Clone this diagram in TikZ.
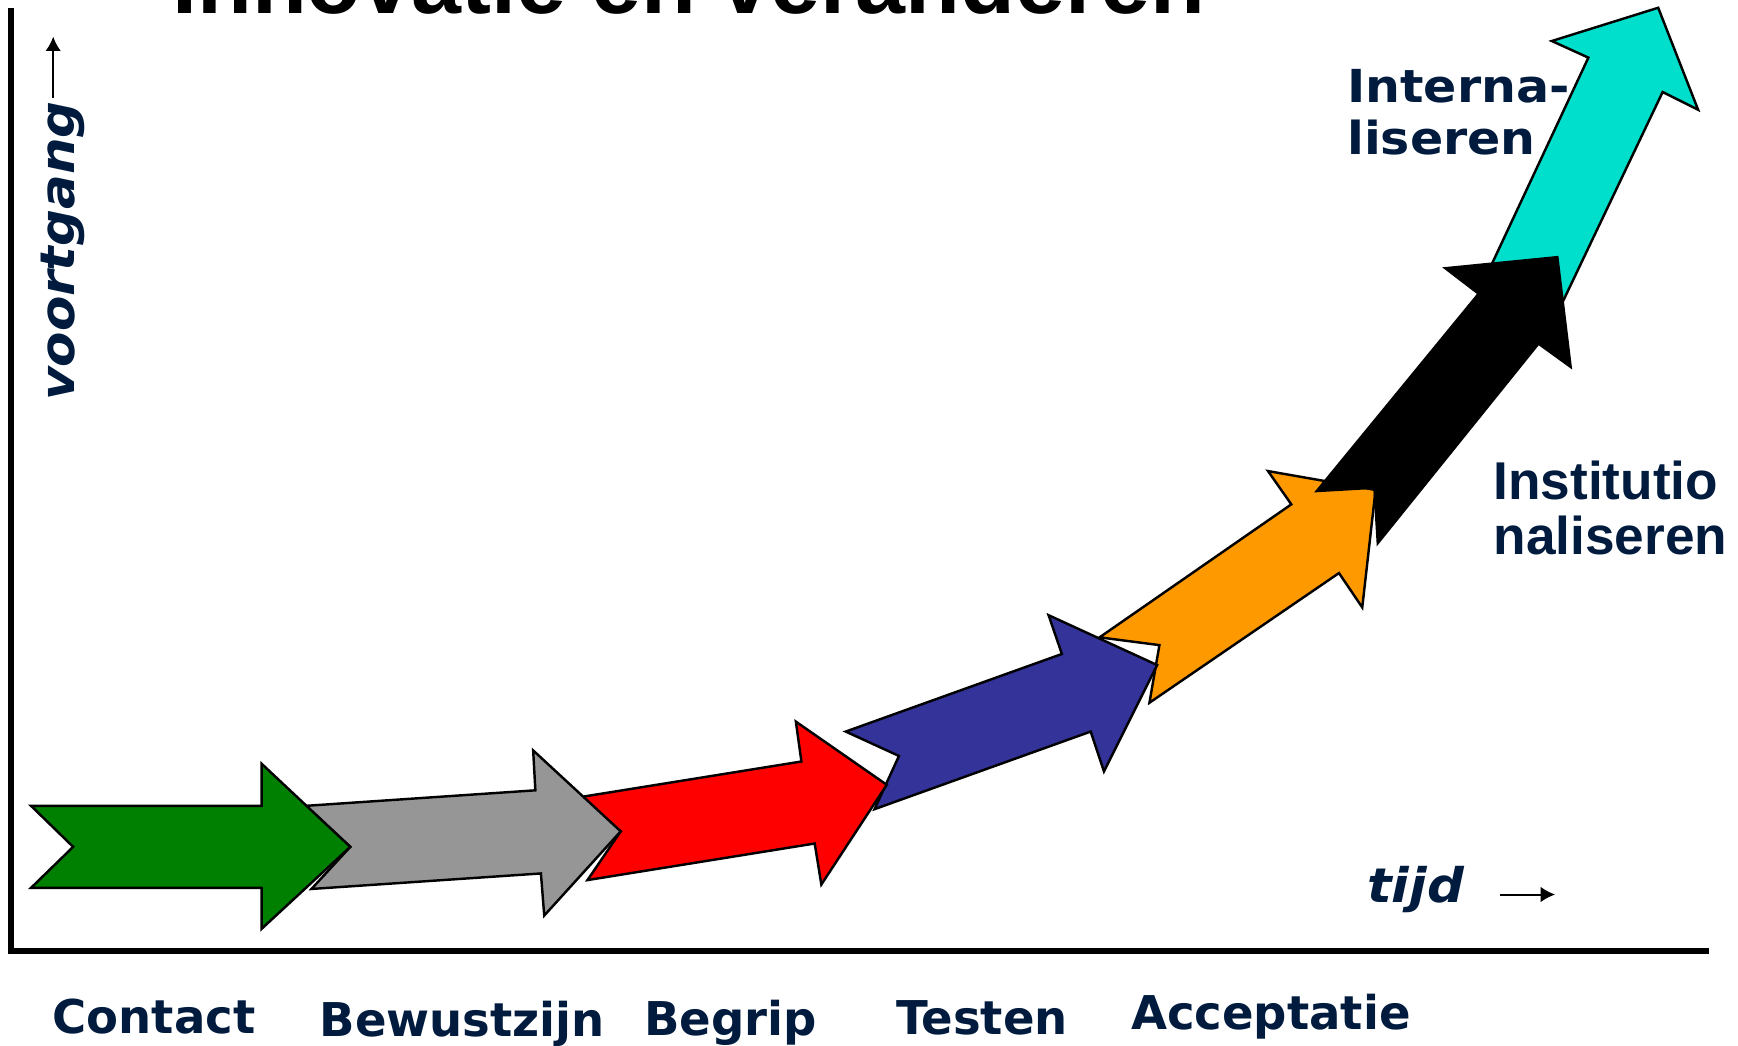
\documentclass[tikz,border=0pt]{standalone}
\usepackage{fontspec}
\setmainfont{DejaVu Sans}
\newfontfamily\breed{DejaVu Sans}[FakeStretch=1.08]
\newfontfamily\arial{Liberation Sans}
\usetikzlibrary{arrows.meta}
\definecolor{tekst}{RGB}{0,27,61}
\definecolor{groen}{RGB}{0,128,0}
\definecolor{grijs}{RGB}{150,150,150}
\definecolor{rood}{RGB}{255,0,0}
\definecolor{blauw}{RGB}{51,51,153}
\definecolor{oranje}{RGB}{255,153,0}
\definecolor{turkoois}{RGB}{0,222,204}
\begin{document}
\begin{tikzpicture}[x=0.5pt,y=-0.5pt,line join=miter]
        % Styles
        \tikzstyle{pijl}=[draw=black,line width=1.1pt]
        \tikzstyle{as}=[line width=3pt]
        \tikzstyle{fase}=[text=tekst,inner sep=0pt,anchor=base west,font=\bfseries\fontsize{21}{25}\selectfont]
        \tikzstyle{schuin}=[text=tekst,inner sep=0pt,anchor=base west,font=\breed\bfseries\itshape\fontsize{21.5}{25}\selectfont]
        \tikzstyle{klein pijltje}=[line width=0.9pt,-{Latex[length=6.5pt,width=7pt]}]
        %The graphic
        \useasboundingbox (0,0) rectangle (1568,943);
        \clip (0,0) rectangle (1568,943);
        %title, cut off at the top
        \node[anchor=base west,inner sep=0pt,font=\arial\bfseries\fontsize{40.5}{48}\selectfont] (titel) at (155,12) {Innovatie en veranderen};
        %axes
        \draw[style=as] (10,7) -- (10,858) -- (1542,858);
        \node[schuin,rotate=90] (voortgang) at (67,362) {voortgang};
        \coordinate (vbegin) at (48,88);
        \coordinate (vtop) at (48,33);
        \draw[klein pijltje] (vbegin) -- (vtop);
        \node[schuin] (tijd) at (1233,814) {tijd};
        \coordinate (tbegin) at (1353,807);
        \coordinate (teind) at (1403,807);
        \draw[klein pijltje] (tbegin) -- (teind);
        %arrows, last one first
        \draw[pijl,fill=turkoois] (1335,262) -- (1346,238) -- (1433,52) -- (1400,37) -- (1496,7) -- (1532,99) -- (1500,83) -- (1400,293) -- (1375,265) -- cycle;
        \draw[pijl,fill=oranje] (992,575) -- (1165,455) -- (1144,425) -- (1241,442) -- (1229,548) -- (1208,517) -- (1037,634) -- (1046,582) -- cycle;
        \draw[pijl,fill=black] (1188,443) -- (1334,265) -- (1304,242) -- (1405,232) -- (1417,331) -- (1388,310) -- (1243,490) -- (1240,440) -- cycle;
        \draw[pijl,fill=blauw] (763,660) -- (958,590) -- (946,555) -- (1044,600) -- (996,696) -- (984,660) -- (789,730) -- (811,682) -- cycle;
        \draw[pijl,fill=rood] (518,720) -- (723,687) -- (718,651) -- (800,708) -- (741,798) -- (735,761) -- (530,794) -- (560,750) -- cycle;
        \draw[pijl,fill=grijs] (276,727) -- (483,713) -- (481,677) -- (560,750) -- (491,826) -- (488,788) -- (281,802) -- (316,764) -- cycle;
        \draw[pijl,fill=groen] (28,727) -- (236,727) -- (236,689) -- (316,764) -- (236,838) -- (236,801) -- (28,801) -- (66,764) -- cycle;
        %labels
        \node[fase] (contact) at (47,932) {Contact};
        \node[fase] (bewust) at (288,935) {Bewustzijn};
        \node[fase] (begrip) at (581,934) {Begrip};
        \node[fase] (testen) at (808,933) {Testen};
        \node[fase] (accept) at (1020,929) {Acceptatie};
        \node[text=tekst,inner sep=0pt,anchor=base west,align=left,font=\breed\bfseries\fontsize{20.5}{23.2}\selectfont] (intern) at (1215,139) {Interna-\\liseren};
        \node[text=tekst,inner sep=0pt,anchor=base west,align=left,font=\arial\bfseries\fontsize{24}{24.85}\selectfont] (instit) at (1347,500.7) {Institutio\\naliseren};
\end{tikzpicture}
\end{document}
